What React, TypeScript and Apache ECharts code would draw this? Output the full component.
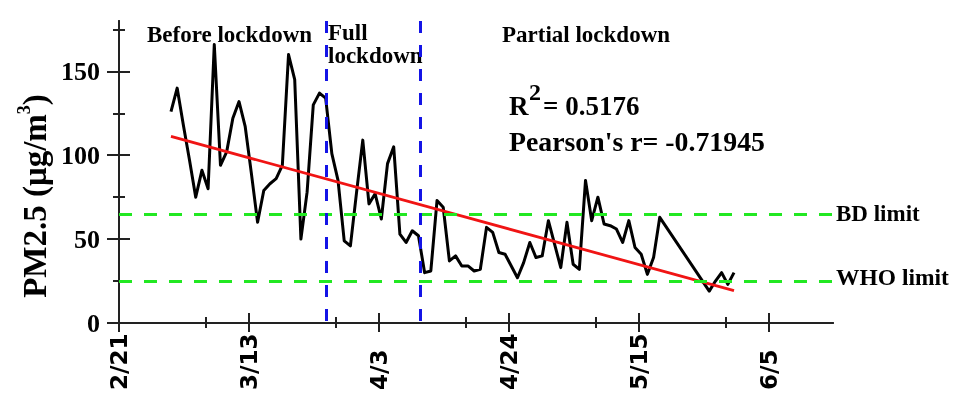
import React, { useEffect, useRef } from "react";
import * as echarts from "echarts";

// ---------- data ----------
const dates = [
  "2/29", "3/1", "3/2", "3/3", "3/4", "3/5", "3/6", "3/7", "3/8", "3/9",
  "3/10", "3/11", "3/12", "3/13", "3/14", "3/15", "3/16", "3/17", "3/18", "3/19",
  "3/20", "3/21", "3/22", "3/23", "3/24", "3/25", "3/26", "3/27", "3/28", "3/29",
  "3/30", "3/31", "4/1", "4/2", "4/3", "4/4", "4/5", "4/6", "4/7", "4/8",
  "4/9", "4/10", "4/11", "4/12", "4/13", "4/14", "4/15", "4/16", "4/17", "4/18",
  "4/19", "4/20", "4/21", "4/22", "4/23", "4/24", "4/25", "4/26", "4/27", "4/28",
  "4/29", "4/30", "5/1", "5/2", "5/3", "5/4", "5/5", "5/6", "5/7", "5/8",
  "5/9", "5/10", "5/11", "5/12", "5/13", "5/14", "5/15", "5/16", "5/17", "5/18",
  "5/26", "5/27", "5/28", "5/29", "5/30",
];
const pm25 = [
  126, 140, 118, 97, 75, 91, 80, 166, 94, 102,
  122, 132, 117, 89, 60, 79, 83, 86, 94, 160,
  145, 50, 78, 130, 137, 134, 101, 85, 49, 46,
  78, 109, 71, 77, 62, 95, 105, 53, 48, 55,
  52, 30, 31, 73, 69, 37, 40, 34, 34, 31,
  32, 57, 54, 42, 41, 34, 27, 36, 48, 39,
  40, 61, 47, 33, 60, 35, 32, 85, 61, 75,
  59, 58, 56, 48, 61, 45, 41, 29, 39, 63,
  19, 25, 30, 23, 30,
];
// linear fit drawn from first to last sample
const trendValues = [111.2, 19.3];
// measurement time of day, as a fraction of a day
const sampleOffset = 0.4;

const xTickLabels = ["2/21", "3/13", "4/3", "4/24", "5/15", "6/5"];
const xMinorTickLabels = ["3/6", "3/27", "4/17", "5/8", "5/29"];
const yTicks = [0, 50, 100, 150];
const yMinorTicks = [25, 75, 125, 175];

const limitNames = ["BD limit", "WHO limit"];
const limitValues = [65, 25];

const periodNames = ["Before lockdown", "Full lockdown", "Partial lockdown"];
// lockdown boundaries, days after 2/21
const periodBoundaries = [33.45, 48.7];

const rSquared = "0.5176";
const pearsonR = "-0.71945";

// ---------- helpers ----------
const BASE = Date.UTC(2020, 1, 21);
const toDay = (md: string) => {
  const [m, d] = md.split("/").map(Number);
  return (Date.UTC(2020, m - 1, d) - BASE) / 86400000;
};
const fromDay = (v: number) => {
  const dt = new Date(BASE + Math.round(v) * 86400000);
  return `${dt.getUTCMonth() + 1}/${dt.getUTCDate()}`;
};

const X_MAX = 115.4;
const Y_MAX = 180;

export default function App() {
  const ref = useRef<HTMLDivElement>(null);

  useEffect(() => {
    document.body.style.margin = "0";
    if (!ref.current) return;
    const chart = echarts.init(ref.current, undefined, { renderer: "svg" });

    const axisLine = { color: "#222", width: 2 };
    const majorX = xTickLabels.map(toDay);
    const minorX = xMinorTickLabels.map(toDay);

    const xBase = {
      type: "value" as const,
      min: 0,
      max: X_MAX,
      splitLine: { show: false },
    };
    const yBase = {
      type: "value" as const,
      min: 0,
      max: Y_MAX,
      splitLine: { show: false },
    };

    const lineData = dates.map((d, i) => [toDay(d) + sampleOffset, pm25[i]]);
    const trendData = [
      [toDay(dates[0]) + sampleOffset, trendValues[0]],
      [toDay(dates[dates.length - 1]) + sampleOffset, trendValues[1]],
    ];

    const green = "#22e822";
    const blue = "#1414e6";

    const serif = "Liberation Serif";
    const txt = (text: string, x: number, y: number, size: number, extra: any = {}) => ({
      type: "text",
      x,
      y,
      silent: true,
      style: {
        text,
        fill: "#000",
        fontFamily: serif,
        fontWeight: "bold",
        fontSize: size,
        align: "left",
        textAlign: "left",
        verticalAlign: "middle",
        textVerticalAlign: "middle",
        ...extra,
      },
    });

    const [fullWord, lockWord] = periodNames[1].split(" ");

    chart.setOption({
      animation: false,
      grid: { left: 119, top: 21, width: 714, height: 302, outerBoundsMode: "none" },
      xAxis: [
        {
          ...xBase,
          position: "bottom",
          axisLine: { show: true, lineStyle: axisLine },
          axisTick: { show: true, customValues: majorX, length: 9, lineStyle: axisLine },
          axisLabel: {
            show: true,
            customValues: majorX,
            formatter: (v: number) => fromDay(v),
            rotate: 90,
            align: "left",
            verticalAlign: "middle",
            margin: 67,
            fontFamily: "DejaVu Sans",
            fontWeight: "bold",
            fontSize: 23,
            color: "#000",
          },
        },
        {
          ...xBase,
          position: "bottom",
          axisLine: { show: false },
          axisTick: { show: true, customValues: minorX, length: 5, lineStyle: axisLine },
          axisLabel: { show: false },
        },
        {
          ...xBase,
          position: "top",
          axisLine: { show: true, lineStyle: axisLine },
          axisTick: { show: true, customValues: majorX, length: 10, lineStyle: axisLine },
          axisLabel: { show: false },
        },
        {
          ...xBase,
          position: "top",
          axisLine: { show: false },
          axisTick: { show: true, customValues: minorX, length: 6, lineStyle: axisLine },
          axisLabel: { show: false },
        },
      ],
      yAxis: [
        {
          ...yBase,
          position: "left",
          axisLine: { show: true, lineStyle: axisLine },
          axisTick: { show: true, customValues: yTicks, length: 12, lineStyle: axisLine },
          axisLabel: {
            show: true,
            customValues: yTicks,
            margin: 19,
            fontFamily: serif,
            fontWeight: "bold",
            fontSize: 26,
            color: "#000",
          },
        },
        {
          ...yBase,
          position: "left",
          axisLine: { show: false },
          axisTick: { show: true, customValues: yMinorTicks, length: 6, lineStyle: axisLine },
          axisLabel: { show: false },
        },
        {
          ...yBase,
          position: "right",
          axisLine: { show: true, lineStyle: axisLine },
          axisTick: { show: true, customValues: yTicks, length: 11, lineStyle: axisLine },
          axisLabel: { show: false },
        },
        {
          ...yBase,
          position: "right",
          axisLine: { show: false },
          axisTick: { show: true, customValues: yMinorTicks, length: 6, lineStyle: axisLine },
          axisLabel: { show: false },
        },
      ],
      series: [
        {
          type: "line",
          name: "PM2.5",
          xAxisIndex: 0,
          yAxisIndex: 0,
          data: lineData,
          showSymbol: false,
          symbol: "none",
          silent: true,
          z: 2,
          lineStyle: { color: "#000", width: 3, join: "round" },
        },
        {
          type: "line",
          name: "Linear fit",
          xAxisIndex: 0,
          yAxisIndex: 0,
          data: trendData,
          showSymbol: false,
          symbol: "none",
          silent: true,
          z: 3,
          lineStyle: { color: "#f01414", width: 2.8 },
          markLine: {
            silent: true,
            symbol: ["none", "none"],
            label: { show: false },
            emphasis: { disabled: true },
            data: [
              ...limitValues.map((v) => ({
                yAxis: v,
                lineStyle: { color: green, width: 3.2, type: [13, 12] },
              })),
              ...periodBoundaries.map((d) => [
                { coord: [d, Y_MAX], lineStyle: { color: blue, width: 3, type: [12, 12] } },
                { coord: [d, 0], lineStyle: { color: blue, width: 3, type: [12, 12] } },
              ]),
            ],
          },
        },
      ],
      graphic: [
        txt(periodNames[0], 147, 34, 23),
        txt(fullWord, 328, 32.5, 23),
        txt(lockWord, 328, 55.5, 23),
        txt(periodNames[2], 502, 34, 23),
        txt("R", 509, 106, 27),
        txt("2", 529, 92, 24),
        txt("= " + rSquared, 543, 106, 27),
        txt("Pearson's r= " + pearsonR, 509, 141.5, 27.8),
        txt(limitNames[0], 836, 213.5, 23),
        txt(limitNames[1], 836, 277, 23.5),
        {
          type: "text",
          x: 35,
          y: 196,
          rotation: Math.PI / 2,
          silent: true,
          style: {
            text: "{a|PM2.5 (μg/m}{s|3}{a|)}",
            fill: "#000",
            align: "center",
            textAlign: "center",
            verticalAlign: "middle",
            textVerticalAlign: "middle",
            rich: {
              a: { fontFamily: serif, fontWeight: "bold", fontSize: 33, lineHeight: 40, fill: "#000" },
              s: { fontFamily: serif, fontWeight: "bold", fontSize: 18, lineHeight: 18, verticalAlign: "top", fill: "#000" },
            },
          },
        },
      ],
    });

    return () => chart.dispose();
  }, []);

  return (
    <div
      ref={ref}
      style={{ position: "fixed", left: 0, top: 0, width: 963, height: 395 }}
    />
  );
}
